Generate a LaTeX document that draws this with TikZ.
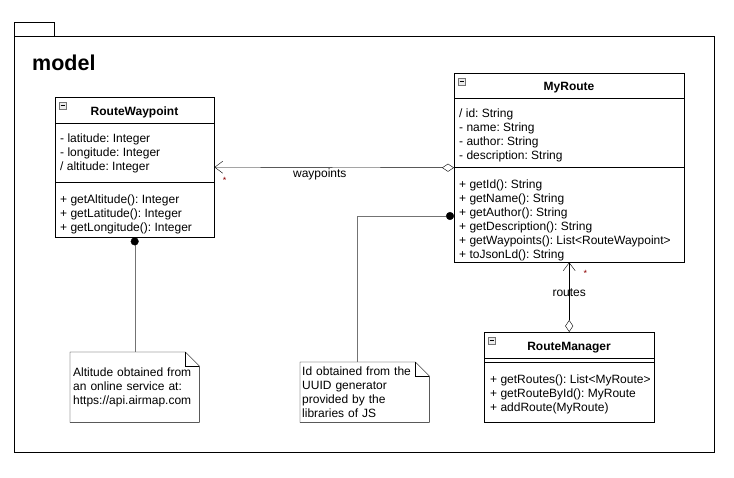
\documentclass[tikz,border=0pt]{standalone}
\usepackage{fontspec}
\setmainfont{Liberation Sans}
\usetikzlibrary{arrows.meta}
\frenchspacing

\tikzset{
  classbox/.style={draw, anchor=north west, inner sep=0pt},
  classname/.style={font=\fontsize{12}{14}\selectfont\bfseries},
  members/.style={anchor=north west, align=left, inner sep=0pt, font=\fontsize{12}{14}\selectfont},
  notebox/.style={anchor=north west, align=left, inner sep=3pt, font=\fontsize{12}{14}\selectfont},
  notelink/.style={draw=black!55},
  multip/.style={text=red!55!black, font=\fontsize{9}{9}\selectfont},
  icon/.style={draw=black!55, fill=black!8},
}
% collapse icon in the top left corner of a class
\newcommand{\collapseicon}[1]{
  \draw[icon] ([xshift=4pt,yshift=-5pt]#1.north west) rectangle ++(7,7);
  \draw ([xshift=5.5pt,yshift=-8.5pt]#1.north west) -- ++(4,0);
}
% dog-eared outline of a note
\newcommand{\noteoutline}[1]{
  \draw (#1.north west) -- ([xshift=-14pt]#1.north east) -- ([yshift=-14pt]#1.north east)
        -- (#1.south east) -- (#1.south west) -- cycle;
  \draw ([xshift=-14pt]#1.north east) |- ([yshift=-14pt]#1.north east);
}

\begin{document}
\begin{tikzpicture}[x=1pt, y=-1pt]
  \useasboundingbox (0,0) rectangle (734,477);

  % package frame
  \draw (14,22) rectangle (54,36);
  \draw (14,36) rectangle (714,452);
  \node[anchor=base west, inner sep=0pt, font=\fontsize{21.5}{21.5}\selectfont\bfseries] (pkgname) at (32,70) {model};

  % RouteWaypoint
  \node[classbox, minimum width=159pt, minimum height=140pt] (rw) at (55,97) {};
  \collapseicon{rw}
  \node[classname] (rwname) at (134.5,112) {RouteWaypoint};
  \draw (55,123) -- (214,123);
  \draw (55,182) -- (214,182);
  \node[members] (rwattr) at (60,133.5) {- latitude: Integer\\- longitude: Integer\\/ altitude: Integer};
  \node[members] (rwops) at (60,195) {+ getAltitude(): Integer\\+ getLatitude(): Integer\\+ getLongitude(): Integer};

  % MyRoute
  \node[classbox, minimum width=230pt, minimum height=189pt] (mr) at (454,73) {};
  \collapseicon{mr}
  \node[classname] (mrname) at (569,88) {MyRoute};
  \draw (454,98) -- (684,98);
  \draw (454,167) -- (684,167);
  \node[members] (mrattr) at (459,108.5) {/ id: String\\- name: String\\- author: String\\- description: String};
  \node[members] (mrops) at (459,180) {+ getId(): String\\+ getName(): String\\+ getAuthor(): String\\+ getDescription(): String\\+ getWaypoints(): List<RouteWaypoint>\\+ toJsonLd(): String};

  % RouteManager
  \node[classbox, minimum width=170pt, minimum height=90pt] (rm) at (484,332) {};
  \collapseicon{rm}
  \node[classname] (rmname) at (569,348) {RouteManager};
  \draw (484,358) -- (654,358);
  \draw (484,362) -- (654,362);
  \node[members] (rmops) at (490,374.5) {+ getRoutes(): List<MyRoute>\\+ getRouteById(): MyRoute\\+ addRoute(MyRoute)};

  % notes
  \node[notebox, text width=123pt, minimum height=70pt] (altnote) at (70,352)
    {Altitude obtained from\\an online service at:\\https://api.airmap.com};
  \noteoutline{altnote}
  \node[notebox, text width=125pt, minimum height=60pt, inner sep=2pt] (idnote) at (300,362)
    {Id obtained from the\\UUID generator\\provided by the\\libraries of JS};
  \noteoutline{idnote}

  % associations
  \draw[{Straight Barb[length=8pt,width=12pt]}-{Diamond[open,length=12pt,width=8pt]}] (rw.east) -- (mr.west)
    node[pos=0.44, below, font=\fontsize{12}{14}\selectfont, inner sep=1pt] (wplabel) {waypoints};
  \node[multip, anchor=north west] (wpmult) at ([xshift=5pt,yshift=-7pt]rw.east) {*};
  \draw[{Straight Barb[length=8pt,width=12pt]}-{Diamond[open,length=12pt,width=8pt]}] (mr.south) -- (rm.north)
    node[pos=0.44, font=\fontsize{12}{14}\selectfont, inner sep=1pt] (rtlabel) {routes};
  \node[multip, anchor=north west] (rtmult) at ([xshift=11pt,yshift=-4pt]mr.south) {*};

  % note links
  \coordinate (idanchor) at (454,216);
  \draw[notelink, {Circle[length=8pt,black]}-] (rw.south) -- (altnote.north);
  \draw[notelink, {Circle[length=8pt,black]}-] (idanchor) -| ([xshift=57pt]idnote.north west);
\end{tikzpicture}
\end{document}
